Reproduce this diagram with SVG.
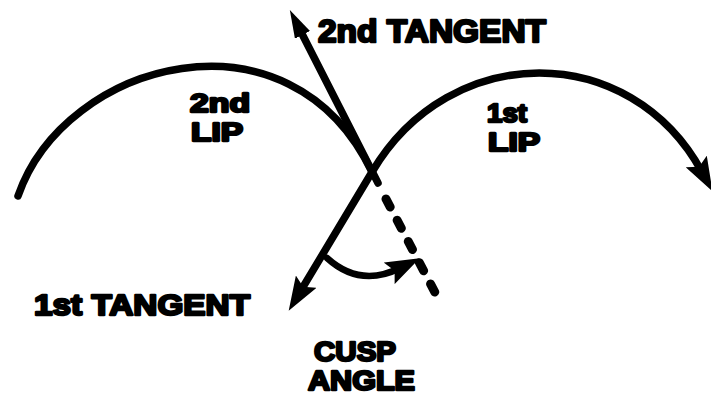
<svg xmlns="http://www.w3.org/2000/svg" width="711" height="397" viewBox="0 0 711 397">
<style>
.ln{fill:none;stroke:#000;stroke-width:7.5;stroke-linecap:round;stroke-linejoin:round}
.dash{fill:none;stroke:#000;stroke-width:9;stroke-linecap:round;stroke-dasharray:9 15}
.t{font-family:"Liberation Sans",Arial,sans-serif;font-weight:bold;fill:#000;stroke:#000;stroke-width:2.4;stroke-linejoin:round}
</style>
<defs>
<marker id="ah" viewBox="0 0 34 24" refX="12" refY="12" markerWidth="34" markerHeight="24" markerUnits="userSpaceOnUse" orient="auto">
<path d="M0,0 L34,12 L0,24 L6,12 Z" fill="#000"/>
</marker>
<marker id="ah2" viewBox="0 0 28 17" refX="10" refY="8.5" markerWidth="28" markerHeight="17" markerUnits="userSpaceOnUse" orient="auto">
<path d="M0,0 L28,8.5 L0,17 Z" fill="#000"/>
</marker>
</defs>
<rect width="711" height="397" fill="#fff"/>
<g id="connectors">
<path id="lip2" class="ln" d="M18,196 C65,60 290,0 372,172"/>
<path id="lip1" class="ln" d="M372,172 C450,40 630,40 702,172" marker-end="url(#ah)"/>
<path id="tangent2" class="ln" d="M378,183 L298,26" marker-end="url(#ah2)"/>
<path id="tangent2-ext" class="dash" d="M386,199 L440,302"/>
<path id="tangent1" class="ln" d="M372,172 L300,292" marker-end="url(#ah)"/>
<path id="cusp-arc" class="ln" style="stroke-width:6.5" d="M327,258 Q360,288 400,268" marker-end="url(#ah)"/>
</g>
<g id="label-2nd-tangent"><text class="t" x="318" y="42" font-size="32" textLength="228" lengthAdjust="spacingAndGlyphs">2nd TANGENT</text></g>
<g id="label-2nd-lip"><text class="t" x="190" y="112" font-size="26" textLength="60" lengthAdjust="spacingAndGlyphs">2nd</text><text class="t" x="191" y="141" font-size="26" textLength="52" lengthAdjust="spacingAndGlyphs">LIP</text></g>
<g id="label-1st-lip"><text class="t" x="487" y="122" font-size="26" textLength="40" lengthAdjust="spacingAndGlyphs">1st</text><text class="t" x="488" y="151" font-size="26" textLength="52" lengthAdjust="spacingAndGlyphs">LIP</text></g>
<g id="label-1st-tangent"><text class="t" x="34" y="315" font-size="30" textLength="216" lengthAdjust="spacingAndGlyphs">1st TANGENT</text></g>
<g id="label-cusp-angle"><text class="t" x="314" y="361" font-size="28" textLength="82" lengthAdjust="spacingAndGlyphs">CUSP</text><text class="t" x="308" y="390" font-size="28" textLength="107" lengthAdjust="spacingAndGlyphs">ANGLE</text></g>
</svg>
